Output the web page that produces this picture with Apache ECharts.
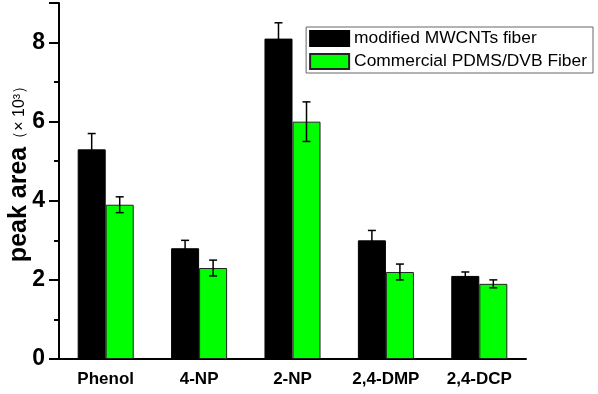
<!DOCTYPE html>
<html>
<head>
<meta charset="utf-8">
<script src="https://cdn.jsdelivr.net/npm/echarts@6/dist/echarts.min.js"></script>
<style>
  html, body { margin: 0; padding: 0; background: #fff; }
  #chart { width: 598px; height: 394px; }
</style>
</head>
<body>
<div id="chart"></div>
<script>
// compounds on the x axis
var categories = ['Phenol', '4-NP', '2-NP', '2,4-DMP', '2,4-DCP'];

// peak area (x10^3) and error
var mwcntValues = [5.3, 2.8, 8.1, 3.0, 2.1];
var mwcntErrors = [0.4, 0.2, 0.4, 0.25, 0.1];
var pdmsValues = [3.9, 2.3, 6.0, 2.2, 1.9];
var pdmsErrors = [0.2, 0.2, 0.5, 0.2, 0.1];

var yTicks = [0, 2, 4, 6, 8];

var fontFam = 'Liberation Sans, Arial, sans-serif';

function errorData(vals, errs) {
  return vals.map(function (v, i) { return [i, v - errs[i], v + errs[i]]; });
}

// draws an error bar shifted left/right of the category centre
function errorRenderer(side) {
  return function (params, api) {
    var i = api.value(0);
    var lo = api.coord([i, api.value(1)]);
    var hi = api.coord([i, api.value(2)]);
    var band = api.size([1, 0])[0];
    var x = lo[0] + side * band * 0.15;
    var cap = 4;
    var st = { stroke: '#000', lineWidth: 1.5 };
    return {
      type: 'group',
      children: [
        { type: 'line', shape: { x1: x, y1: lo[1], x2: x, y2: hi[1] }, style: st },
        { type: 'line', shape: { x1: x - cap, y1: hi[1], x2: x + cap, y2: hi[1] }, style: st },
        { type: 'line', shape: { x1: x - cap, y1: lo[1], x2: x + cap, y2: lo[1] }, style: st }
      ]
    };
  };
}

var chart = echarts.init(document.getElementById('chart'));

chart.setOption({
  animation: false,
  grid: { left: 59, right: 72, top: 3, bottom: 35, containLabel: false, outerBoundsMode: 'none' },
  legend: {
    right: 5,
    top: 27,
    orient: 'vertical',
    icon: 'rect',
    itemWidth: 39,
    itemHeight: 15,
    itemGap: 6,
    padding: [3, 6, 3, 3],
    borderColor: '#666',
    borderWidth: 1,
    textStyle: { fontFamily: fontFam, fontSize: 17.4, color: '#000' },
    data: ['modified MWCNTs fiber', 'Commercial PDMS/DVB Fiber']
  },
  xAxis: [
    {
      type: 'category',
      data: categories,
      axisLine: { lineStyle: { color: '#000', width: 2 } },
      axisTick: { alignWithLabel: true, length: 7, lineStyle: { color: '#000', width: 2 } },
      axisLabel: { interval: 0, fontFamily: fontFam, fontSize: 17, fontWeight: 'bold', color: '#000', margin: 12 }
    },
    {
      type: 'category',
      data: categories,
      position: 'bottom',
      axisLine: { show: false },
      axisTick: { length: 4, lineStyle: { color: '#000', width: 2 } },
      axisLabel: { show: false }
    }
  ],
  yAxis: {
    type: 'value',
    min: 0,
    max: 9,
    interval: 2,
    name: '{b|peak area}{s|（× 10³）}',
    nameLocation: 'middle',
    nameGap: 27,
    nameRotate: 90,
    nameMoveOverlap: false,
    nameTextStyle: {
      padding: [0, 0, 0, 22],
      rich: {
        b: { fontFamily: fontFam, fontSize: 25, fontWeight: 'bold', color: '#000' },
        s: { fontFamily: fontFam, fontSize: 16, color: '#000' }
      }
    },
    axisLine: { show: true, lineStyle: { color: '#000', width: 2 } },
    axisTick: { show: true, length: 10, lineStyle: { color: '#000', width: 2 } },
    minorTick: { show: true, splitNumber: 2, length: 5, lineStyle: { color: '#000', width: 2 } },
    splitLine: { show: false },
    axisLabel: {
      fontFamily: fontFam, fontSize: 23, fontWeight: 'bold', color: '#000', margin: 14,
      formatter: function (v) { return yTicks.indexOf(v) >= 0 ? String(v) : ''; }
    }
  },
  series: [
    {
      name: 'modified MWCNTs fiber',
      type: 'bar',
      data: mwcntValues,
      barWidth: '30%',
      barGap: '0%',
      itemStyle: { color: '#000', borderColor: '#000', borderWidth: 1 }
    },
    {
      name: 'Commercial PDMS/DVB Fiber',
      type: 'bar',
      data: pdmsValues,
      barWidth: '30%',
      itemStyle: { color: '#00ff00', borderColor: '#222', borderWidth: 1 }
    },
    {
      type: 'custom',
      renderItem: errorRenderer(-1),
      data: errorData(mwcntValues, mwcntErrors),
      encode: { x: 0, y: [1, 2] },
      z: 10
    },
    {
      type: 'custom',
      renderItem: errorRenderer(1),
      data: errorData(pdmsValues, pdmsErrors),
      encode: { x: 0, y: [1, 2] },
      z: 10
    }
  ]
});
</script>
</body>
</html>
